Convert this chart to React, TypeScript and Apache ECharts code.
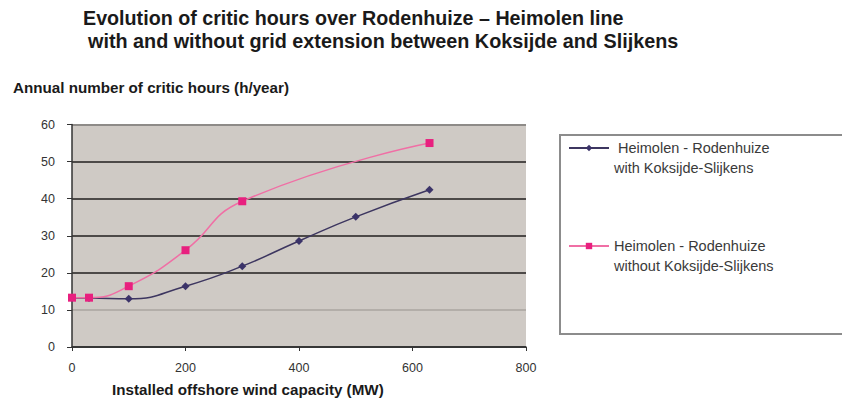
import React, { useEffect, useRef } from "react";
import * as echarts from "echarts";

const titleLines = [
  "Evolution of critic hours over Rodenhuize \u2013 Heimolen line",
  "with and without grid extension between Koksijde and Slijkens",
];
const yAxisName = "Annual number of critic hours (h/year)";
const xAxisName = "Installed offshore wind capacity (MW)";

const seriesWithName = "Heimolen - Rodenhuize with Koksijde-Slijkens";
const seriesWithoutName = "Heimolen - Rodenhuize without Koksijde-Slijkens";

const withCapacity = [0, 30, 100, 200, 300, 400, 500, 630];
const withHours = [13.2, 13.2, 13.0, 16.4, 21.8, 28.6, 35.1, 42.4];

const withoutCapacity = [0, 30, 100, 200, 300, 630];
const withoutHours = [13.3, 13.3, 16.4, 26.1, 39.3, 55.0];

const legendLabels: Record<string, string[]> = {
  [seriesWithName]: [" Heimolen - Rodenhuize", "with Koksijde-Slijkens"],
  [seriesWithoutName]: ["Heimolen - Rodenhuize", "without Koksijde-Slijkens"],
};

const FONT = "Liberation Sans, Arial, sans-serif";

export default function App() {
  const ref = useRef<HTMLDivElement>(null);
  useEffect(() => {
    if (!ref.current) return;
    const chart = echarts.init(ref.current, null, { renderer: "svg" });
    const pair = (xs: number[], ys: number[]) => xs.map((x, i) => [x, ys[i]]);
    const boldText = (size: number) => ({
      fontFamily: FONT,
      fontWeight: "bold",
      fontSize: size,
      color: "#1a1a1a",
    });
    chart.setOption({
      animation: false,
      backgroundColor: "#ffffff",
      title: [
        { text: titleLines[0], left: 83, top: 8, padding: 0, textStyle: boldText(19.7) },
        { text: titleLines[1], left: 88, top: 31, padding: 0, textStyle: boldText(19.8) },
        { text: yAxisName, left: 13, top: 80, padding: 0, textStyle: boldText(15.2) },
        { text: xAxisName, left: 112, top: 382, padding: 0, textStyle: boldText(15.2) },
      ],
      graphic: [
        {
          type: "rect",
          z: 0,
          shape: { x: 560, y: 135, width: 300, height: 199 },
          style: { fill: "#ffffff", stroke: "#8c8c8c", lineWidth: 2 },
        },
      ],
      legend: {
        orient: "vertical",
        left: 563,
        top: 113,
        itemGap: 38,
        itemWidth: 40,
        itemHeight: 8,
        z: 10,
        data: [seriesWithName, seriesWithoutName],
        formatter: (name: string) => "\n" + legendLabels[name].join("\n"),
        textStyle: {
          fontFamily: FONT,
          fontSize: 14.5,
          color: "#3a3a3a",
          lineHeight: 20,
        },
      },
      grid: {
        left: 72,
        right: 316,
        top: 124.5,
        bottom: 56,
        show: true,
        backgroundColor: "#cfcac5",
        borderWidth: 0,
      },
      xAxis: {
        type: "value",
        min: 0,
        max: 800,
        interval: 200,
        axisLine: { show: true, lineStyle: { color: "#333333", width: 1.5 } },
        axisTick: { show: true, length: 4, lineStyle: { color: "#333333" } },
        axisLabel: {
          margin: 14,
          fontFamily: FONT,
          fontSize: 12.5,
          color: "#333333",
        },
        splitLine: { show: false },
      },
      yAxis: {
        type: "value",
        min: 0,
        max: 60,
        interval: 10,
        axisLine: { show: true, lineStyle: { color: "#333333", width: 1.5 } },
        axisTick: { show: true, length: 5, lineStyle: { color: "#333333" } },
        axisLabel: {
          margin: 17,
          fontFamily: FONT,
          fontSize: 12.5,
          color: "#333333",
        },
        splitLine: {
          show: true,
          lineStyle: {
            width: 2,
            color: ["#444444", "#b3aea9", "#4d4a48", "#4d4a48", "#4d4a48", "#4d4a48", "#8e8b88"],
          },
        },
      },
      series: [
        {
          name: seriesWithName,
          type: "line",
          smooth: 0.5,
          data: pair(withCapacity, withHours),
          symbol: "diamond",
          symbolSize: 8,
          itemStyle: { color: "#3b3369" },
          lineStyle: { color: "#3d3660", width: 1.5 },
        },
        {
          name: seriesWithoutName,
          type: "line",
          smooth: 0.5,
          data: pair(withoutCapacity, withoutHours),
          symbol: "rect",
          symbolSize: 8,
          itemStyle: { color: "#e8207f" },
          lineStyle: { color: "#f06fa5", width: 1.5 },
        },
      ],
    });
    return () => chart.dispose();
  }, []);
  return (
    <div
      ref={ref}
      style={{ position: "fixed", left: 0, top: 0, width: 842, height: 403, background: "#fff" }}
    />
  );
}
